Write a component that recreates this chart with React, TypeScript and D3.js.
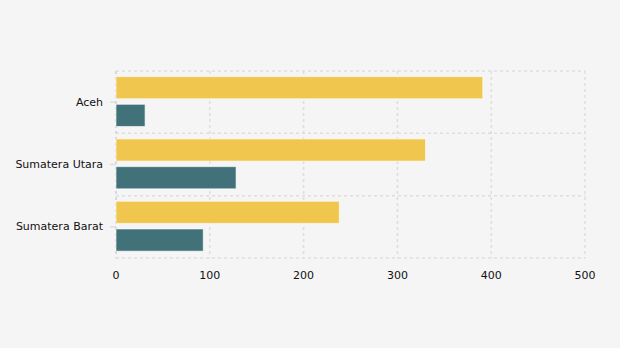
import React from "react";
import * as d3 from "d3";

const categories = ["Aceh", "Sumatera Utara", "Sumatera Barat"];
const seriesNames = ["A", "B"];
const seriesA = [391, 330, 238];
const seriesB = [31, 128, 93];
const xTicks = [0, 100, 200, 300, 400, 500];
const colors = ["#F0C64F", "#41727A"];

const W = 620;
const H = 348;
const left = 116;
const right = 585;
const top = 71;
const bottom = 258;

export default function App() {
  const x = d3.scaleLinear().domain([0, 500]).range([left, right]);
  const y0 = d3.scaleBand().domain(categories).range([top, bottom]).padding(0);
  const bw = y0.bandwidth();
  const y1 = d3
    .scaleBand()
    .domain(seriesNames)
    .range([bw * 0.09, bw * 0.89])
    .paddingInner(0.2)
    .paddingOuter(0);
  const values = [seriesA, seriesB];
  const gridColor = "#dedede";
  const font = "DejaVu Sans, Verdana, sans-serif";

  return (
    <svg
      width={W}
      height={H}
      style={{ position: "absolute", left: 0, top: 0, display: "block" }}
    >
      <rect x={0} y={0} width={W} height={H} fill="#F5F5F5" />
      {xTicks.map((t) => (
        <line
          key={"vx" + t}
          x1={x(t)}
          x2={x(t)}
          y1={top}
          y2={bottom}
          stroke={t === 0 ? "#d0d0d0" : gridColor}
          strokeWidth={1.5}
          strokeDasharray="3,3"
        />
      ))}
      {[...categories.map((c) => y0(c)!), bottom].map((yy, i) => (
        <line
          key={"hy" + i}
          x1={left}
          x2={right}
          y1={yy}
          y2={yy}
          stroke={gridColor}
          strokeWidth={1.5}
          strokeDasharray="3,3"
        />
      ))}
      {categories.map((c, ci) =>
        seriesNames.map((s, si) => (
          <rect
            key={c + s}
            x={x(0)}
            y={y0(c)! + y1(s)!}
            width={x(values[si][ci]) - x(0)}
            height={y1.bandwidth()}
            fill={colors[si]}
            stroke="rgba(255,255,255,0.6)"
            strokeWidth={1}
          />
        ))
      )}
      {categories.map((c) => {
        const cy = y0(c)! + bw / 2;
        return (
          <g key={"yl" + c}>
            <line x1={left - 6} x2={left} y1={cy} y2={cy} stroke={gridColor} strokeWidth={1.5} />
            <text
              x={left - 13}
              y={cy}
              textAnchor="end"
              dominantBaseline="central"
              fontFamily={font}
              fontSize={11}
              fill="#111"
            >
              {c}
            </text>
          </g>
        );
      })}
      {xTicks.map((t) => (
        <text
          key={"xl" + t}
          x={x(t)}
          y={275}
          textAnchor="middle"
          dominantBaseline="central"
          fontFamily={font}
          fontSize={11}
          fill="#111"
        >
          {t}
        </text>
      ))}
    </svg>
  );
}
